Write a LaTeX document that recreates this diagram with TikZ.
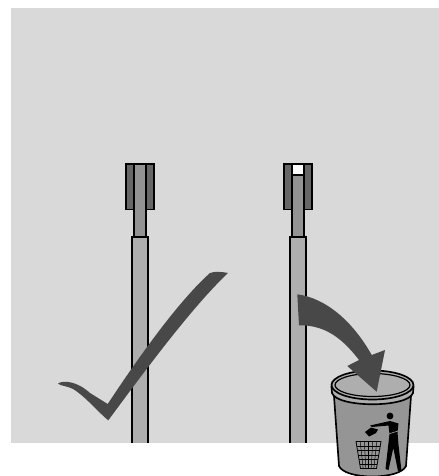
\documentclass[tikz,border=0pt]{standalone}
\usepackage{tikz}
\usetikzlibrary{calc}
\definecolor{panelgray}{HTML}{D9D9D9}
\definecolor{tubegray}{HTML}{AEAEAE}
\definecolor{rodgray}{HTML}{939393}
\definecolor{sleevegray}{HTML}{666666}
\definecolor{markgray}{HTML}{484848}
\definecolor{bingray}{HTML}{959595}
\tikzset{
  part/.style={draw=black,line width=1.25pt},
  darkmark/.style={fill=markgray,draw=none},
  binline/.style={draw=black,line width=1.25pt},
}
\begin{document}
\begin{tikzpicture}[x=0.75pt,y=-0.75pt]
  \useasboundingbox (0,0) rectangle (439,476);
  % Panel
  \fill[panelgray] (11,8) rectangle (439,442.5);
  % Tubes, rods and sleeves
  \foreach \dx/\rodtop in {0/164,158/175} {
    \begin{scope}[xshift=\dx*0.75pt]
      \draw[part,fill=sleevegray] (126,164) rectangle (154,209.5);
      \draw[part,fill=rodgray] (134,\rodtop) rectangle (146,237);
      \fill[tubegray] (132,237) rectangle (148,442.5);
      \draw[part] (132,442.5) -- (132,237) -- (148,237) -- (148,442.5);
    \end{scope}
  }
  % Empty end of the right sleeve
  \draw[part,fill=white] (292,164) rectangle (304,175);
  % Tick
  \fill[darkmark] (58,383.5) .. controls (63,380) and (77,381) .. (90,393)
    -- (107.7,404) .. controls (125,378) and (172,307) .. (210,273)
    .. controls (214,271) and (224,272) .. (228,273)
    .. controls (192,307) and (144,372) .. (108.3,420.3)
    .. controls (100,414) and (85,396) .. (73,389)
    .. controls (68,386) and (60,386) .. (58,383.5) -- cycle;
  % Bin body
  \draw[binline,fill=bingray] (334,396) -- (339,466)
    .. controls (345,480) and (400,480) .. (406,466) -- (411,396) -- cycle;
  % Bin rim
  \draw[binline,fill=tubegray] (331.5,387) -- (332,393)
    .. controls (337,408) and (408,408) .. (413,393) -- (413.5,387) -- cycle;
  \draw[binline,fill=tubegray] (372.5,385) ellipse [x radius=41,y radius=14.5];
  \draw[line width=0.9pt] (372.5,385) ellipse [x radius=37.5,y radius=11.5];
  % Man
  \fill[black] (390,416) circle (3.4);
  \fill[black] (370,425.5) -- (390,421) -- (398.5,423.5) -- (397.5,432) -- (398.5,445)
    -- (401.5,471) -- (398,471) -- (393.3,448) -- (388.5,470) -- (385.5,469)
    -- (389.5,434) -- (388.5,425.5) -- (372,427) -- cycle;
  \draw[bingray,line width=0.5pt] (388.5,434) -- (398,431);
  % Litter
  \fill[black] (365,432) -- (371,427.5) -- (378,429.5) -- (376,433) -- (369,436.5) -- cycle;
  % Basket
  \draw[line width=0.6pt] (356,441.5) -- (381,441.5) -- (376.5,468.5) -- (360.5,468.5) -- cycle;
  \foreach \t in {0.167,0.333,0.5,0.667,0.833} {
    \draw[line width=0.35pt] ($(356,441.5)!\t!(381,441.5)$) -- ($(360.5,468.5)!\t!(376.5,468.5)$);
    \draw[line width=0.35pt] ($(356,441.5)!\t!(360.5,468.5)$) -- ($(381,441.5)!\t!(376.5,468.5)$);
  }
  % Arrow into the bin
  \fill[darkmark] (297.3,294.3) .. controls (325,298) and (352,320) .. (371.7,355)
    -- (385,350) -- (376.7,391.7) -- (347.3,366) -- (359,360)
    .. controls (340,335) and (322,325) .. (299,325.3) -- cycle;
\end{tikzpicture}
\end{document}
